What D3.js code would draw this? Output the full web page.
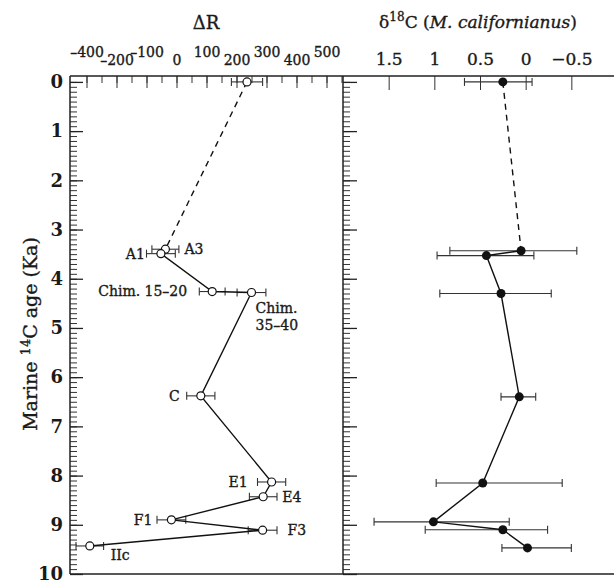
<!DOCTYPE html>
<html>
<head>
<meta charset="utf-8">
<script src="https://cdn.jsdelivr.net/npm/d3@7/dist/d3.min.js"></script>
<style>
body { margin: 0; background: #fff; }
text { font-family: "DejaVu Serif", serif; fill: #1a1a1a; stroke: #1a1a1a; stroke-width: 0.35px; }
</style>
</head>
<body>
<svg id="chart" width="614" height="583"></svg>
<script>
// age axis (Ka)
const ageTicks = [0, 1, 2, 3, 4, 5, 6, 7, 8, 9, 10];

// delta R panel
const drNames = ["", "A3", "A1", "Chim. 15\u201320", "Chim. 35\u201340", "C", "E1", "E4", "F1", "F3", "IIc"];
const drAge   = [0.0, 3.40, 3.49, 4.26, 4.28, 6.38, 8.13, 8.43, 8.90, 9.11, 9.43];
const drValue = [235, -37, -52, 119, 250, 81, 317, 289, -17, 287, -289];
const drErr   = [52, 45, 48, 43, 48, 47, 47, 46, 48, 48, 46];
const drTickValues = [-300, -200, -100, 0, 100, 200, 300, 400, 500];
const drTickLabels = ["\u2013400", "\u2013200", "\u2013100", "0", "100", "200", "300", "400", "500"];

// delta 18 panel (M. californianus)
const d18Age   = [0.0, 3.43, 3.53, 4.30, 6.40, 8.15, 8.94, 9.10, 9.47];
const d18Value = [0.25, 0.05, 0.43, 0.27, 0.07, 0.47, 1.01, 0.25, -0.02];
const d18Lo    = [-0.07, -0.56, -0.09, -0.28, -0.11, -0.40, 0.18, -0.24, -0.50];
const d18Hi    = [0.67, 0.83, 0.97, 0.94, 0.27, 0.98, 1.66, 1.10, 0.26];
const d18TickValues = [1.5, 1, 0.5, 0, -0.5];
const d18TickLabels = ["1.5", "1", "0.5", "0", "\u22120.5"];

let svg = d3.select('#chart');
let yTop = 76, yBot = 574, xLeft = 70, xMid = 343, xRight = 617;

let y = d3.scaleLinear().domain([-0.12, 10]).range([yTop, yBot]);
let xDr = d3.scaleLinear().domain([-355, 555]).range([xLeft, xMid]);
let x18 = d3.scaleLinear().domain([2, -1]).range([xMid, xRight]);

// age axis, major + minor ticks pointing in
function ageAxis(xpos, majorLen) {
    svg.append('g')
        .attr('transform', 'translate(' + xpos + ',0)')
        .call(d3.axisRight(y).tickValues(d3.range(0, 10.001, 0.1)).tickSize(7).tickFormat(''))
        .call(g => g.select('.domain').remove())
        .selectAll('line').attr('stroke', '#333');
    let g = svg.append('g')
        .attr('transform', 'translate(' + xpos + ',0)')
        .call(d3.axisRight(y).tickValues(ageTicks).tickSize(majorLen).tickFormat(''))
        .call(g => g.select('.domain').remove());
    g.selectAll('line').attr('stroke', '#222').attr('stroke-width', 1.3);
}
ageAxis(xLeft, 13);
ageAxis(xMid, 14);

// age tick labels
svg.append('g')
    .attr('transform', 'translate(' + (xLeft - 7) + ',0)')
    .call(d3.axisLeft(y).tickValues(ageTicks).tickSize(0).tickPadding(0))
    .call(g => g.select('.domain').remove())
    .selectAll('text')
    .style('font-family', '"DejaVu Serif", serif')
    .style('font-size', '18px')
    .style('font-weight', 'bold')
    .style('stroke-width', '0px')
    .attr('fill', '#1a1a1a');

// top axis delta R
svg.append('g')
    .attr('transform', 'translate(0,' + yTop + ')')
    .call(d3.axisBottom(xDr).tickValues(d3.range(-300, 551, 50))
        .tickSize(7).tickFormat(''))
    .call(g => g.select('.domain').remove())
    .selectAll('line').attr('stroke', '#333');
svg.append('g')
    .attr('transform', 'translate(0,' + yTop + ')')
    .call(d3.axisBottom(xDr).tickValues(drTickValues).tickSize(12).tickFormat(''))
    .call(g => g.select('.domain').remove())
    .selectAll('line').attr('stroke', '#333');
svg.append('g')
    .attr('transform', 'translate(0,' + yTop + ')')
    .call(d3.axisTop(xDr).tickValues(drTickValues).tickSize(0)
        .tickFormat((d, i) => drTickLabels[i]))
    .call(g => g.select('.domain').remove())
    .selectAll('text')
    .style('font-family', '"DejaVu Serif", serif')
    .style('font-size', '14px')
    .attr('fill', '#1a1a1a')
    .attr('dy', null)
    .attr('y', (d, i) => i % 2 === 0 ? -19 : -11);

// top axis delta 18
svg.append('g')
    .attr('transform', 'translate(0,' + yTop + ')')
    .call(d3.axisBottom(x18).tickValues(d18TickValues).tickSize(14).tickFormat(''))
    .call(g => g.select('.domain').remove())
    .selectAll('line').attr('stroke', '#333');
svg.append('g')
    .attr('transform', 'translate(0,' + yTop + ')')
    .call(d3.axisTop(x18).tickValues(d18TickValues).tickSize(0)
        .tickFormat((d, i) => d18TickLabels[i]))
    .call(g => g.select('.domain').remove())
    .selectAll('text')
    .style('font-family', '"DejaVu Serif", serif')
    .style('font-size', '17px')
    .attr('fill', '#1a1a1a')
    .attr('dy', null)
    .attr('y', -11);

// frame
svg.append('path')
    .attr('d', 'M' + xLeft + ',' + yTop + 'H' + 614 + 'M' + xLeft + ',' + yBot + 'H' + 614 +
        'M' + xLeft + ',' + yTop + 'V' + yBot + 'M' + xMid + ',' + yTop + 'V' + yBot)
    .attr('stroke', '#222').attr('stroke-width', 1.5).attr('fill', 'none');

// titles
svg.append('text').attr('x', 206).attr('y', 29).attr('text-anchor', 'middle')
    .style('font-size', '18px').text('\u0394R');
let t18 = svg.append('text').attr('x', 478).attr('y', 28).attr('text-anchor', 'middle')
    .style('font-size', '17px');
t18.append('tspan').text('\u03b4');
t18.append('tspan').attr('dy', -7).style('font-size', '12px').text('18');
t18.append('tspan').attr('dy', 7).text('C (');
t18.append('tspan').style('font-style', 'italic').text('M. californianus');
t18.append('tspan').text(')');

let yt = svg.append('text')
    .attr('transform', 'translate(37,334) rotate(-90)')
    .attr('text-anchor', 'middle')
    .style('font-size', '19px');
yt.append('tspan').text('Marine ');
yt.append('tspan').attr('dy', -7).style('font-size', '13px').text('14');
yt.append('tspan').attr('dy', 7).text('C age (Ka)');

// error bars
function errBars(xs, lo, hi, ages) {
    let g = svg.append('g').attr('stroke', '#333').attr('stroke-width', 1.1);
    ages.forEach((a, i) => {
        let yy = y(a), x1 = xs(lo[i]), x2 = xs(hi[i]);
        g.append('line').attr('x1', x1).attr('x2', x2).attr('y1', yy).attr('y2', yy);
        g.append('line').attr('x1', x1).attr('x2', x1).attr('y1', yy - 4).attr('y2', yy + 4);
        g.append('line').attr('x1', x2).attr('x2', x2).attr('y1', yy - 4).attr('y2', yy + 4);
    });
}
errBars(xDr, drValue.map((v, i) => v - drErr[i]), drValue.map((v, i) => v + drErr[i]), drAge);
errBars(x18, d18Lo, d18Hi, d18Age);

// connecting lines
let drPts = drAge.map((a, i) => [xDr(drValue[i]), y(a)]);
let d18Pts = d18Age.map((a, i) => [x18(d18Value[i]), y(a)]);
let line = d3.line();
svg.append('path').attr('d', line(drPts.slice(0, 2)))
    .attr('stroke', '#111').attr('stroke-width', 1.4).attr('stroke-dasharray', '6,5').attr('fill', 'none');
svg.append('path').attr('d', line(drPts.slice(2)))
    .attr('stroke', '#111').attr('stroke-width', 1.4).attr('fill', 'none');
svg.append('path').attr('d', line(d18Pts.slice(0, 2)))
    .attr('stroke', '#111').attr('stroke-width', 1.4).attr('stroke-dasharray', '6,5').attr('fill', 'none');
svg.append('path').attr('d', line(d18Pts.slice(1)))
    .attr('stroke', '#111').attr('stroke-width', 1.4).attr('fill', 'none');

// markers
svg.selectAll('.dr').data(drPts).enter().append('circle')
    .attr('class', 'dr')
    .attr('cx', d => d[0]).attr('cy', d => d[1]).attr('r', 4)
    .attr('fill', '#fff').attr('stroke', '#111').attr('stroke-width', 1.2);
svg.selectAll('.d18').data(d18Pts).enter().append('circle')
    .attr('class', 'd18')
    .attr('cx', d => d[0]).attr('cy', d => d[1]).attr('r', 4.5)
    .attr('fill', '#111');

// point labels
const labelPos = {
    'A3': [19, 0, 'start'], 'A1': [-16, 0, 'end'], 'Chim. 15\u201320': [-25, 0, 'end'],
    'C': [-21, 0, 'end'], 'E1': [-24, 0, 'end'], 'E4': [19, 0, 'start'],
    'F1': [-19, 0, 'end'], 'F3': [25, 0, 'start'], 'IIc': [21, 9, 'start']
};
drNames.forEach((n, i) => {
    if (!n) return;
    let p = drPts[i];
    if (n === 'Chim. 35\u201340') {
        let t = svg.append('text').attr('x', p[0] + 4).attr('y', p[1] + 16).attr('dy', '0.35em')
            .style('font-size', '14px');
        t.append('tspan').text('Chim.');
        t.append('tspan').attr('x', p[0] + 4).attr('dy', 17).text('35\u201340');
        return;
    }
    let o = labelPos[n];
    svg.append('text').attr('x', p[0] + o[0]).attr('y', p[1] + o[1]).attr('dy', '0.35em')
        .attr('text-anchor', o[2]).style('font-size', '14px').text(n);
});
</script>
</body>
</html>
